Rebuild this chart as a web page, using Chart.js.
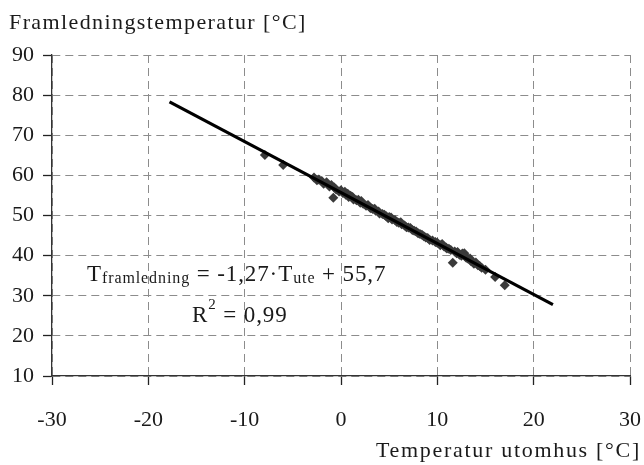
<!DOCTYPE html>
<html>
<head>
<meta charset="utf-8">
<script src="https://cdn.jsdelivr.net/npm/chart.js@4/dist/chart.umd.min.js"></script>
<style>
  html, body { margin: 0; padding: 0; background: #fff; }
</style>
</head>
<body>
<canvas id="chart" width="644" height="465"></canvas>
<script>
// measured outdoor temp vs supply temp
const outdoorTemp = [
  -7.9, -6.0, -2.8, -2.5, -2.3, -2.0, -1.8, -1.5, -1.2, -1.0,
  -0.8, -0.7, -0.5, -0.2, 0.0, 0.2, 0.4, 0.5, 0.7, 0.8,
  1.0, 1.2, 1.3, 1.6, 1.8, 2.0, 2.1, 2.3, 2.6, 2.8,
  3.0, 3.1, 3.3, 3.5, 3.6, 3.9, 4.0, 4.3, 4.5, 4.7,
  4.9, 5.0, 5.2, 5.3, 5.6, 5.8, 6.0, 6.2, 6.3, 6.6,
  6.8, 7.0, 7.2, 7.4, 7.6, 7.8, 8.0, 8.2, 8.4, 8.6,
  8.8, 9.0, 9.2, 9.5, 9.8, 10.0, 10.3, 10.5, 10.7, 10.9,
  11.0, 11.2, 11.4, 11.6, 11.8, 12.0, 12.1, 12.3, 12.5, 12.6,
  12.8, 12.9, 13.0, 13.2, 13.4, 13.5, 13.8, 14.0, 14.2, 14.4,
  14.6, 15.0, 16.0, 17.0
];
const supplyTemp = [
  65.1, 62.6, 59.5, 58.8, 59.0, 58.6, 57.9, 58.3, 57.2, 57.6,
  54.4, 57.0, 56.5, 56.0, 56.3, 55.6, 55.9, 55.2, 55.4, 54.6,
  54.9, 54.6, 54.0, 53.8, 53.9, 53.2, 53.6, 52.9, 52.4, 52.6,
  52.0, 51.8, 51.6, 51.7, 51.2, 51.0, 50.5, 50.4, 50.2, 49.8,
  49.3, 49.6, 49.5, 49.0, 48.9, 48.4, 48.2, 48.3, 47.8, 47.5,
  47.1, 47.0, 46.9, 46.4, 46.2, 46.0, 45.6, 45.4, 45.2, 44.8,
  44.5, 44.4, 43.9, 43.8, 43.4, 43.2, 42.6, 42.9, 42.3, 42.0,
  41.8, 41.7, 41.4, 38.2, 41.0, 40.6, 40.9, 40.2, 40.0, 40.5,
  40.6, 39.8, 39.5, 39.2, 39.3, 38.6, 38.0, 38.3, 37.6, 37.4,
  37.0, 36.5, 34.7, 32.6
];
// trend line end points
const trendX = [-17.8, 22.0];
const trendY = [78.3, 27.8];

const xTicks = [-30, -20, -10, 0, 10, 20, 30];
const yTicks = [10, 20, 30, 40, 50, 60, 70, 80, 90];

const FONT = "'Liberation Serif', 'DejaVu Serif', serif";
const TXT = "#1a1a1a";

const textPlugin = {
  id: "texts",
  afterDraw(chart) {
    const ctx = chart.ctx;
    ctx.save();
    ctx.fillStyle = TXT;
    ctx.textBaseline = "alphabetic";

    // axis titles
    ctx.font = "22px " + FONT;
    ctx.letterSpacing = "1.4px";
    ctx.textAlign = "left";
    ctx.fillText("Framledningstemperatur [°C]", 9, 29);
    ctx.textAlign = "right";
    ctx.letterSpacing = "1.7px";
    ctx.fillText("Temperatur utomhus [°C]", 641, 457);

    // equation
    ctx.textAlign = "left";
    ctx.letterSpacing = "0.9px";
    let x = 87;
    const y = 281;
    const parts = [
      ["T", 23, 0], ["framledning", 16, 2], [" = -1,27·T", 23, 0],
      ["ute", 16, 2], [" + 55,7", 23, 0]
    ];
    parts.forEach(([s, size, dy]) => {
      ctx.font = size + "px " + FONT;
      ctx.fillText(s, x, y + dy);
      x += ctx.measureText(s).width;
    });

    ctx.font = "23px " + FONT;
    x = 192;
    ctx.fillText("R", x, 322);
    x += ctx.measureText("R").width;
    ctx.font = "15px " + FONT;
    ctx.fillText("2", x, 309);
    x += ctx.measureText("2").width;
    ctx.font = "23px " + FONT;
    ctx.fillText(" = 0,99", x, 322);
    ctx.restore();
  }
};

const gridOpts = {
  color: "#8c8c8c",
  lineWidth: 1,
  tickColor: "#222",
  tickLength: 9,
  tickWidth: 1.3,
  tickBorderDash: []
};

new Chart(document.getElementById("chart").getContext("2d"), {
  data: {
    datasets: [
      {
        type: "line",
        data: trendX.map((x, i) => ({ x: x, y: trendY[i] })),
        borderColor: "#000",
        borderWidth: 3.2,
        pointRadius: 0,
        fill: false
      },
      {
        type: "scatter",
        data: outdoorTemp.map((x, i) => ({ x: x, y: supplyTemp[i] })),
        pointStyle: "rectRot",
        pointRadius: 5,
        backgroundColor: "#3a3a3a",
        borderWidth: 0
      }
    ]
  },
  options: {
    responsive: false,
    devicePixelRatio: 1,
    animation: false,
    layout: {
      padding: { top: 55, right: 0, left: 0, bottom: 0 }
    },
    plugins: {
      legend: { display: false },
      tooltip: { enabled: false }
    },
    scales: {
      x: {
        type: "linear",
        min: -30,
        max: 30,
        afterBuildTicks: (s) => { s.ticks = xTicks.map(v => ({ value: v })); },
        afterFit: (s) => {
          s.height = 89;
          s.paddingLeft = 0;
          s.paddingRight = 14;
        },
        ticks: {
          font: { family: FONT, size: 22 },
          color: TXT,
          padding: 22
        },
        grid: gridOpts,
        border: { display: true, color: "#333", width: 1.3, dash: [8, 5] }
      },
      y: {
        type: "linear",
        min: 10,
        max: 90,
        afterBuildTicks: (s) => { s.ticks = yTicks.map(v => ({ value: v })); },
        afterFit: (s) => { s.width = 52; },
        ticks: {
          font: { family: FONT, size: 22 },
          color: TXT,
          padding: 9
        },
        grid: gridOpts,
        border: { display: true, color: "#333", width: 1.3, dash: [8, 5] }
      }
    }
  },
  plugins: [textPlugin]
});
</script>
</body>
</html>
